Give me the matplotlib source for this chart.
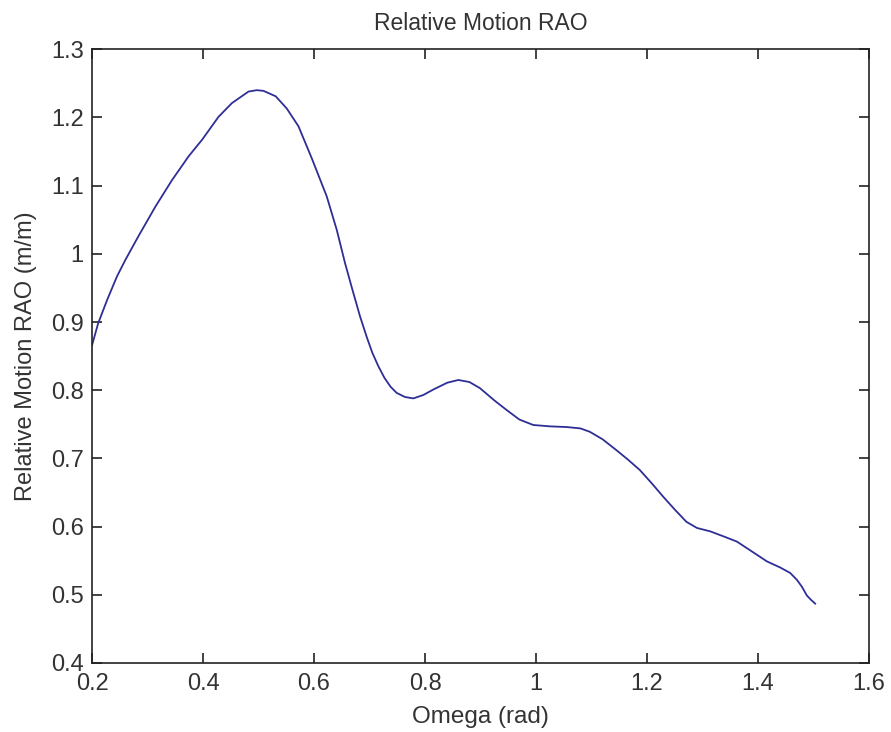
import matplotlib
matplotlib.use("Agg")
import matplotlib.pyplot as plt

omega = [0.200, 0.211, 0.227, 0.245, 0.260, 0.283, 0.314, 0.344, 0.374, 0.398,
         0.428, 0.452, 0.482, 0.497, 0.509, 0.531, 0.551, 0.572, 0.596, 0.623,
         0.641, 0.656, 0.670, 0.683, 0.695, 0.705, 0.716, 0.727, 0.738, 0.749,
         0.764, 0.779, 0.797, 0.815, 0.840, 0.860, 0.880, 0.899, 0.925, 0.947,
         0.970, 0.995, 1.025, 1.055, 1.080, 1.097, 1.120, 1.145, 1.166, 1.187,
         1.208, 1.229, 1.250, 1.271, 1.290, 1.314, 1.340, 1.362, 1.390, 1.416,
         1.440, 1.458, 1.470, 1.479, 1.488, 1.495, 1.503]
rao = [0.866, 0.898, 0.932, 0.967, 0.991, 1.025, 1.069, 1.108, 1.143, 1.167,
       1.201, 1.221, 1.238, 1.240, 1.239, 1.231, 1.213, 1.187, 1.140, 1.084,
       1.035, 0.986, 0.945, 0.908, 0.878, 0.855, 0.835, 0.818, 0.805, 0.796,
       0.790, 0.788, 0.793, 0.801, 0.811, 0.815, 0.812, 0.803, 0.785, 0.771,
       0.757, 0.749, 0.747, 0.746, 0.744, 0.739, 0.728, 0.712, 0.698, 0.683,
       0.664, 0.644, 0.625, 0.607, 0.598, 0.593, 0.585, 0.578, 0.563, 0.549,
       0.540, 0.532, 0.522, 0.512, 0.499, 0.493, 0.487]

xticks = [0.2, 0.4, 0.6, 0.8, 1.0, 1.2, 1.4, 1.6]
xtick_labels = ["0.2", "0.4", "0.6", "0.8", "1", "1.2", "1.4", "1.6"]
yticks = [0.4, 0.5, 0.6, 0.7, 0.8, 0.9, 1.0, 1.1, 1.2, 1.3]
ytick_labels = ["0.4", "0.5", "0.6", "0.7", "0.8", "0.9", "1", "1.1", "1.2", "1.3"]

plt.rcParams['font.family'] = ['Liberation Sans', 'DejaVu Sans']
txt = '#333333'

fig = plt.figure(figsize=(8.91, 7.32), dpi=100)
ax = fig.add_axes([0.1033, 0.0943, 0.8720, 0.8384])
ax.plot(omega, rao, color='#2e2e96', linewidth=1.3)
ax.set_xlim(0.2, 1.6)
ax.set_ylim(0.4, 1.3)
ax.set_xticks(xticks)
ax.set_xticklabels(xtick_labels)
ax.set_yticks(yticks)
ax.set_yticklabels(ytick_labels)
ax.tick_params(direction='in', length=7, width=1.2, top=True, right=True,
               labelsize=17, colors='#222222', labelcolor=txt)
ax.tick_params(axis='x', pad=7)
ax.tick_params(axis='y', pad=6)
for s in ax.spines.values():
    s.set_linewidth(1.2)
    s.set_color('#222222')
ax.set_title("Relative Motion RAO", fontsize=16.5, color=txt, pad=14)
ax.set_xlabel("Omega (rad)", fontsize=17.5, color=txt, labelpad=8)
ax.set_ylabel("Relative Motion RAO (m/m)", fontsize=17, color=txt, labelpad=10)
fig.savefig("out.png", dpi=100)
